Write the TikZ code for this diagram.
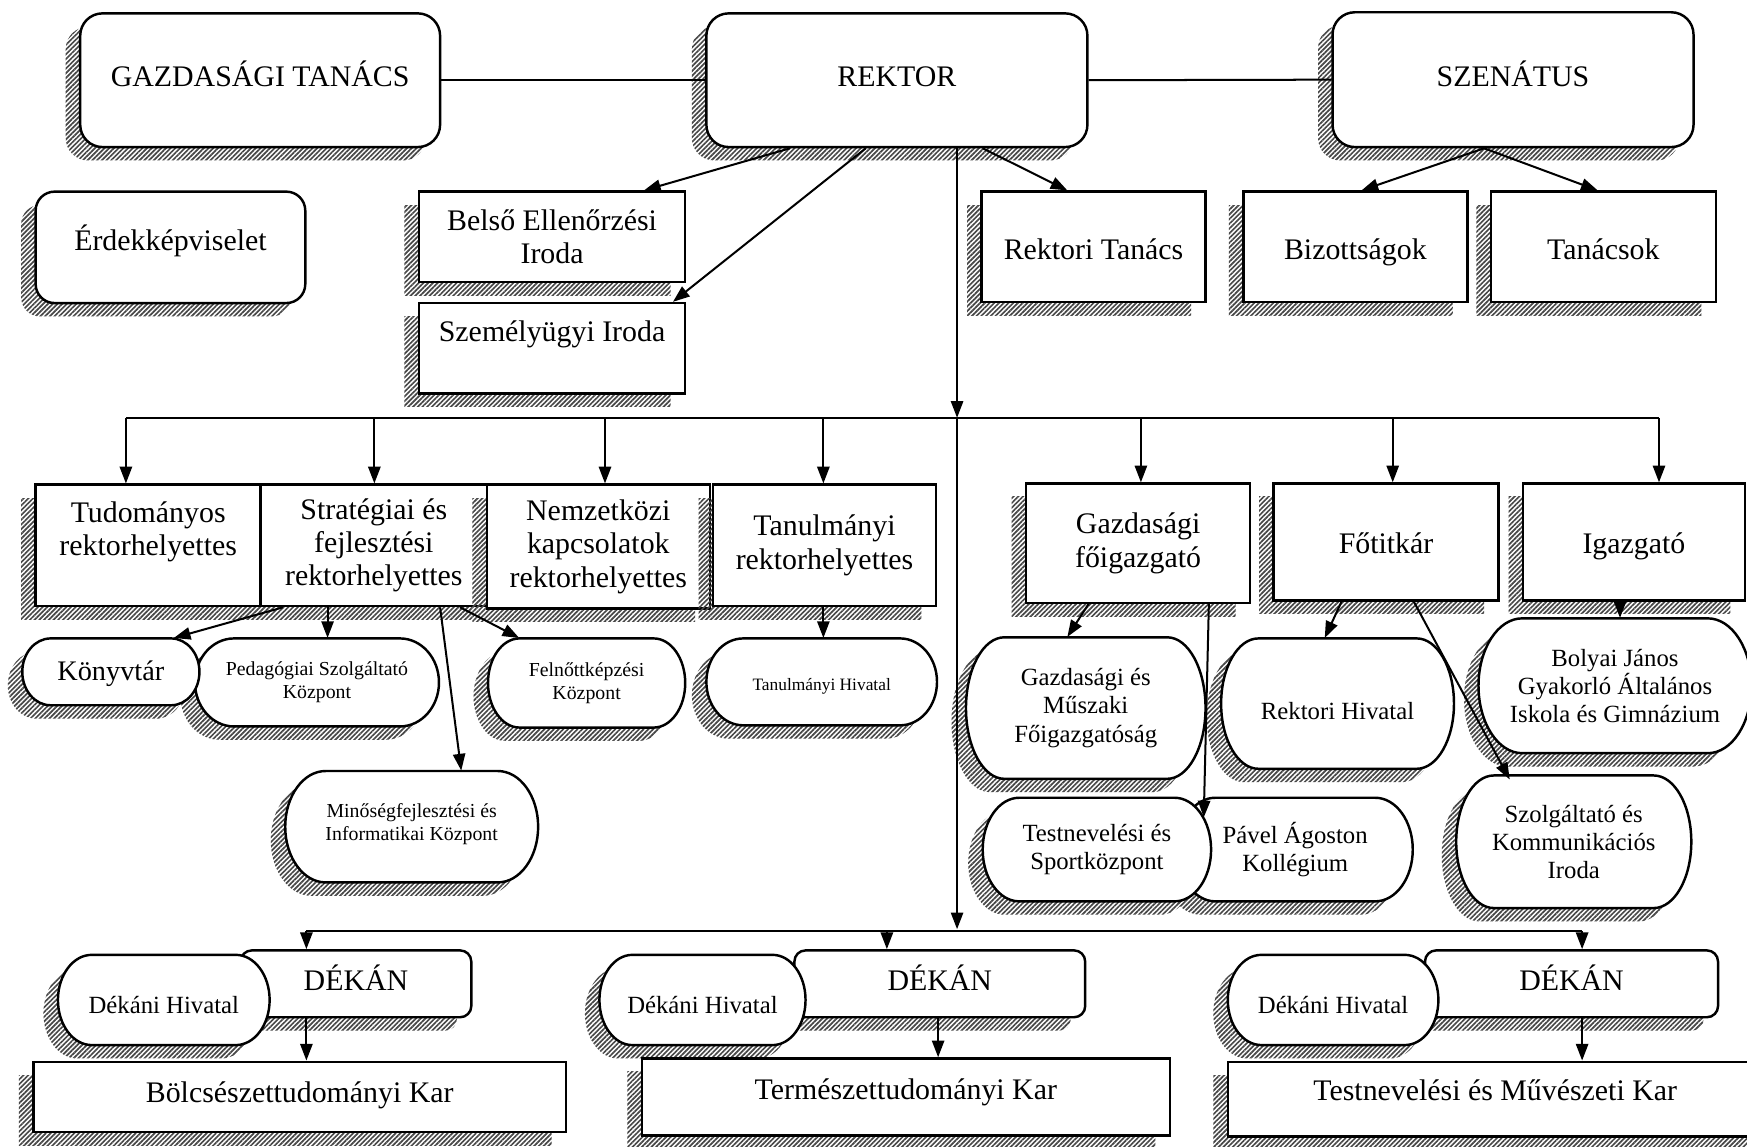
\documentclass[tikz,border=0pt]{standalone}
\usepackage{fontspec}
\setmainfont{Liberation Serif}
\usetikzlibrary{arrows.meta,shadows,calc,patterns.meta}
\newcommand\fntA{\fontsize{13.4pt}{15pt}\selectfont}
\newcommand\fntB{\fontsize{11.1pt}{12.6pt}\selectfont}
\newcommand\fntC{\fontsize{8.9pt}{10.2pt}\selectfont}
\newcommand\fntD{\fontsize{7.8pt}{9pt}\selectfont}
\newcommand\fntE{\fontsize{12.7pt}{14.2pt}\selectfont}
\tikzset{
  hatch/.style={pattern={Lines[angle=45,distance=1.5pt,line width=0.75pt]},pattern color=black!72},
  sh/.style={drop shadow={shadow xshift=-6.5pt,shadow yshift=-6pt,opacity=1,hatch}},
  bbase/.style={draw=black,line width=1.1pt,fill=white,inner sep=0pt,align=center,font=\fntA},
  rb/.style={bbase,sh},
  rrb/.style={bbase,sh,rounded corners=10pt},
  dk/.style={bbase,sh,rounded corners=5pt},
  tx/.style={inner sep=0pt,align=center},
  tv/.style 2 args={text height=#1,text depth=#2},
  one/.style={tv={9.4pt}{3.35pt}},
  conn/.style={line width=0.9pt},
  arr/.style={conn,-{Triangle[length=7.5pt,width=5.5pt]}},
}
% box node from corner coordinates (px, y downwards)
\newcommand\bx[7][]{\node[#1,minimum width={(#5-#3)*0.5pt},minimum height={(#6-#4)*0.5pt}] (#2) at ({(#3+#5)/2},{(#4+#6)/2}) {#7};}
% stadium (terminator) outline
\newcommand\stadp[1]{\path[#1] ({\sxa+\srx},\sya) -- ({\sxb-\srx},\sya) .. controls ({\sxb-0.448*\srx},\sya) and (\sxb,{\sym-0.552*\sry}) .. (\sxb,\sym) .. controls (\sxb,{\sym+0.552*\sry}) and ({\sxb-0.448*\srx},\syb) .. ({\sxb-\srx},\syb) -- ({\sxa+\srx},\syb) .. controls ({\sxa+0.448*\srx},\syb) and (\sxa,{\sym+0.552*\sry}) .. (\sxa,\sym) .. controls (\sxa,{\sym-0.552*\sry}) and ({\sxa+0.448*\srx},\sya) .. ({\sxa+\srx},\sya) -- cycle;}
\newcommand\stad[7][]{%
  \pgfmathsetmacro\sxa{#3}\pgfmathsetmacro\sya{#4}%
  \pgfmathsetmacro\sxb{#5}\pgfmathsetmacro\syb{#6}%
  \pgfmathsetmacro\srx{0.16*(#5-#3)}\pgfmathsetmacro\sym{(#4+#6)/2}%
  \pgfmathsetmacro\sry{(#6-#4)/2}%
  \stadp{hatch,shift={(-13,12)}}%
  \stadp{fill=white,draw=black,line width=1.1pt}%
  \node[tx,#1,minimum width={(#5-#3)*0.5pt},minimum height={(#6-#4)*0.5pt}] (#2) at ({(#3+#5)/2},\sym) {#7};%
}
\begin{document}
\begin{tikzpicture}[x=0.5pt,y=-0.5pt]
\useasboundingbox (0,0) rectangle (1568,1028.6);
\fill[white] (0,0) rectangle (1568,1028.6);
\clip (0,0) rectangle (1568,1028.6);

% ---------- top row
\bx[rrb,one]{gt}{72}{12}{395}{132}{GAZDASÁGI TANÁCS}
\bx[rrb,one]{rektor}{634}{12}{976}{132}{REKTOR}
\bx[rrb,one]{szenatus}{1196}{11}{1520}{132}{SZENÁTUS}
\bx[rrb,rounded corners=8.5pt,tv={9.4pt}{6.4pt}]{erdek}{32}{172}{274}{272}{Érdekképviselet}
\bx[rb]{belso}{376}{172}{615}{253}{Belső Ellenőrzési\\Iroda}
\bx[rb]{szemely}{376}{272}{615}{353}{Személyügyi Iroda\\\mbox{}}
\bx[rb,tv={14.4pt}{3.35pt}]{rektanacs}{881}{172}{1082}{271}{Rektori Tanács}
\bx[rb,tv={14.4pt}{3.35pt}]{biz}{1116}{172}{1317}{271}{Bizottságok}
\bx[rb,tv={14.4pt}{3.35pt}]{tanacsok}{1338}{172}{1540}{271}{Tanácsok}

% ---------- second row
\bx[rb]{strat}{234}{435}{437}{544}{Stratégiai és\\fejlesztési\\rektorhelyettes}
\bx[rb]{tud}{32}{435}{234}{544}{Tudományos\\rektorhelyettes\\\mbox{}}
\bx[rb]{nemz}{437}{435}{637}{546}{Nemzetközi\\kapcsolatok\\rektorhelyettes}
\bx[rb]{tanrh}{640}{435}{840}{544}{Tanulmányi\\rektorhelyettes}
\bx[rb]{gazdfo}{921}{434}{1122}{541}{Gazdasági\\főigazgató}
\bx[rb,tv={13.4pt}{3.35pt}]{fotitkar}{1143}{434}{1345}{539}{Főtitkár}
\bx[rb,tv={13.4pt}{3.35pt}]{igazgato}{1367}{434}{1566}{539}{Igazgató}

% ---------- third row
\stad[font=\fntC]{pedag}{175}{573}{394}{652}{Pedagógiai Szolgáltató\\Központ}
\stad[font=\fntE,tv={10.9pt}{3.2pt}]{konyvtar}{20}{573}{179}{633}{Könyvtár}
\stad[font=\fntC]{felnott}{438}{573}{615}{653}{Felnőttképzési\\Központ}
\stad[font=\fntD,tv={9.5pt}{2pt}]{tanhiv}{634}{573}{841}{651}{Tanulmányi Hivatal}
\stad[font=\fntC]{minoseg}{256}{692}{483}{792}{Minőségfejlesztési és\\Informatikai Központ\\[-6pt]\mbox{}}
\stad[font=\fntB]{gazdmusz}{867}{572}{1082}{699}{Gazdasági és\\Műszaki\\Főigazgatóság}
\stad[font=\fntB,tv={17.3pt}{2.8pt}]{rekhiv}{1096}{573}{1305}{690}{Rektori Hivatal}
\stad[font=\fntB]{bolyai}{1327}{555}{1572}{676}{Bolyai János\\Gyakorló Általános\\Iskola és Gimnázium}
\stad[font=\fntB]{pavel}{1057}{716}{1268}{809}{Pável Ágoston\\Kollégium}
\stad[font=\fntB]{testsport}{882}{716}{1087}{809}{Testnevelési és\\Sportközpont}
\stad[font=\fntB]{szolg}{1307}{696}{1518}{815}{Szolgáltató és\\Kommunikációs\\Iroda}

% ---------- faculties
\bx[dk,one]{dekan1}{216}{853}{423}{913}{DÉKÁN}
\stad[font=\fntB,tv={15pt}{2.8pt}]{dh1}{52}{857}{242}{938}{Dékáni Hivatal}
\bx[rb,tv={9.4pt}{4.4pt}]{kar1}{30}{953}{508}{1016}{Bölcsészettudományi Kar}

\bx[dk,one]{dekan2}{713}{853}{974}{913}{DÉKÁN}
\stad[font=\fntB,tv={15pt}{2.8pt}]{dh2}{538}{857}{723}{938}{Dékáni Hivatal}
\bx[rb,tv={9.4pt}{6.8pt}]{kar2}{576}{950}{1050}{1019}{Természettudományi Kar}

\bx[dk,one]{dekan3}{1279}{853}{1542}{913}{DÉKÁN}
\stad[font=\fntB,tv={15pt}{2.8pt}]{dh3}{1102}{857}{1291}{938}{Dékáni Hivatal}
\bx[rb,tv={9.4pt}{7.8pt}]{kar3}{1102}{953}{1582}{1020}{Testnevelési és Művészeti Kar}

% ---------- connectors
\draw[conn] (gt.east) -- (rektor.west);
\draw[conn] (rektor.east) -- (szenatus.west);
\draw[arr] (rektor.south -| 709,0) -- (belso.north -| 578,0);
\draw[arr] (rektor.south -| 777,0) -- (szemely.north -| 604,0);
\draw[arr] (rektor.south -| 882,0) -- (rektanacs.north -| 958,0);
\draw[arr] (szenatus.south -| 1332,0) -- (biz.north -| 1222,0);
\draw[arr] (szenatus.south -| 1332,0) -- (tanacsok.north -| 1434,0);

\coordinate (bus1) at (859,375);
\coordinate (bus2) at (859,834);
\coordinate (busL) at (113,375);
\coordinate (busR) at (1489,375);
\draw[arr] (rektor.south -| bus1) -- (bus1);
\draw[arr] (bus1) -- (bus2);
\draw[conn] (busL) -- (busR);
\foreach \xx/\nn in {113/tud,336/strat,543/nemz,739/tanrh,1024/gazdfo,1250/fotitkar,1489/igazgato}
  \draw[arr] (\xx,375) -- (\nn.north -| \xx,0);

\draw[arr] (strat.south -| 254,0) -- (konyvtar.north -| 156,0);
\draw[arr] (strat.south -| 294,0) -- (pedag.north -| 294,0);
\draw[arr] (strat.south -| 395,0) -- (minoseg.north -| 414,0);
\draw[arr] (strat.south -| 413,0) -- (felnott.north -| 466,0);
\draw[arr] (tanrh.south -| 739,0) -- (tanhiv.north -| 739,0);
\draw[arr] (gazdfo.south -| 977,0) -- (gazdmusz.north -| 958,0);
\draw[arr] (gazdfo.south -| 1085,0) -- ([shift={(-3.5pt,-9pt)}]testsport.north east);
\draw[arr] (fotitkar.south -| 1204,0) -- (rekhiv.north -| 1189,0);
\draw[arr] (fotitkar.south -| 1269,0) -- ([yshift=-2pt]szolg.north -| 1355,0);
\draw[arr] (igazgato.south -| 1454,0) -- (bolyai.north -| 1454,0);

\coordinate (lbL) at (275,836);
\coordinate (lbR) at (1420,836);
\draw[conn] (lbL) -- (lbR);
\draw[arr] (lbL) -- (dekan1.north -| lbL);
\draw[arr] (796,836) -- (dekan2.north -| 796,0);
\draw[arr] (lbR) -- (dekan3.north -| lbR);
\draw[arr] (dekan1.south -| 275,0) -- (kar1.north -| 275,0);
\draw[arr] (dekan2.south -| 842,0) -- (kar2.north -| 842,0);
\draw[arr] (dekan3.south -| 1420,0) -- (kar3.north -| 1420,0);
\end{tikzpicture}
\end{document}
